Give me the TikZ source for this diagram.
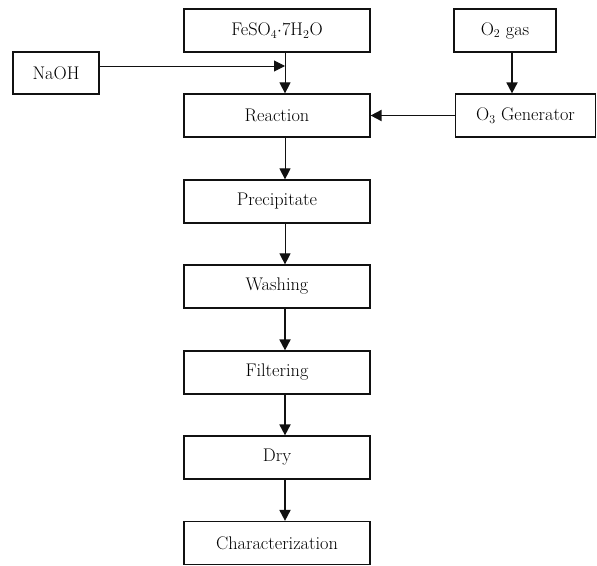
\documentclass[tikz,border=0pt]{standalone}
\usepackage{fontspec}
\usepackage{tikz}
\usetikzlibrary{arrows.meta,positioning,calc}
\definecolor{Ink}{HTML}{111111}
\tikzset{
  >={Triangle[length=11pt,width=11pt]},
  box/.style={draw=Ink,line width=1.2pt,minimum width=186pt,minimum height=43pt,inner sep=0pt,font=\fontsize{18.3}{22}\selectfont},
  flow/.style={->,draw=Ink,line width=1pt},
  flowb/.style={flow,line width=1.8pt}
}

\begin{document}
\begin{tikzpicture}[x=1pt,y=-1pt]
    \useasboundingbox (0,0) rectangle (597,565);
    % main column
    \node[box] (fes) at (277,30.5) {FeSO$_4$$\cdot$7H$_2$O};
    \node[box] (reac) at (277,115.5) {Reaction};
    \node[box] (prec) at (277,201.5) {Precipitate};
    \node[box] (wash) at (277,286.5) {Washing};
    \node[box] (filt) at (277,372.5) {Filtering};
    \node[box] (dry) at (277,457.5) {Dry};
    \node[box] (char) at (277,543) {Characterization};
    % side inputs
    \node[box,minimum width=86pt,minimum height=42pt] (naoh) at (56,73) {NaOH};
    \node[box,minimum width=102pt] (otwo) at (505,30.5) {O$_2$ gas};
    \node[box,minimum width=140pt] (ogen) at (525.5,115.5) {O$_3$ Generator};
    \coordinate (col) at (285,66);
    \coordinate (ocol) at (512,0);
    \draw[flow] (fes.south -| col) -- (reac.north -| col);
    \draw[flow] (naoh.east |- col) -- (col);
    \draw[flowb] (otwo.south -| ocol) -- (ogen.north -| ocol);
    \draw[flowb] (ogen.west) -- (reac.east);
    \draw[flow] (reac.south -| col) -- (prec.north -| col);
    \draw[flow] (prec.south -| col) -- (wash.north -| col);
    \draw[flowb] (wash.south -| col) -- (filt.north -| col);
    \draw[flowb] (filt.south -| col) -- (dry.north -| col);
    \draw[flowb] (dry.south -| col) -- (char.north -| col);
  \end{tikzpicture}
\end{document}
